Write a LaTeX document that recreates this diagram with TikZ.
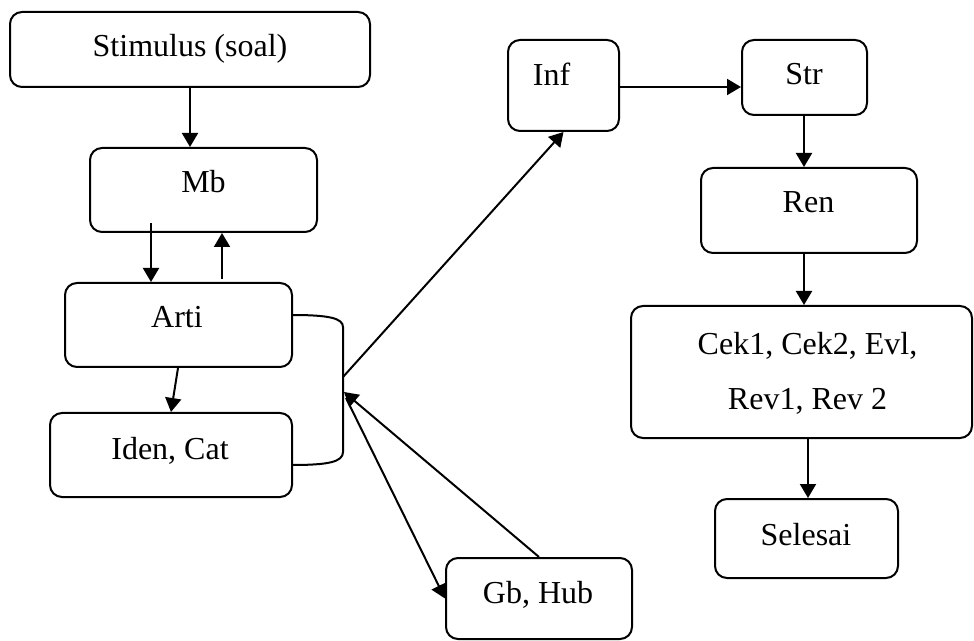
\documentclass[tikz,border=0pt]{standalone}
\usepackage{fontspec}
\setmainfont{Liberation Serif}
\usetikzlibrary{arrows.meta,fit,calc}
\begin{document}
\begin{tikzpicture}[x=0.5pt,y=-0.5pt,
  box/.style={draw, line width=1pt, rounded corners=6pt, inner sep=0pt},
  txt/.style={anchor=base, inner sep=0pt, font=\fontsize{16}{19}\selectfont},
  arr/.style={line width=1pt, -{Triangle[length=7pt,width=8pt]}},
  ln/.style={line width=1pt}]
\useasboundingbox (0,0) rectangle (974,641);
% boxes
\node[box, fit={(10,12) (370,87)}] (stim) {};
\node[box, fit={(90,148) (317,232)}] (mb) {};
\node[box, fit={(65,283) (292,367)}] (arti) {};
\node[box, fit={(50,413) (292,497)}] (iden) {};
\node[box, fit={(508,40) (619,131)}] (inf) {};
\node[box, fit={(742,40) (867,115)}] (str) {};
\node[box, fit={(701,168) (917,253)}] (ren) {};
\node[box, fit={(631,306) (972,438)}] (cek) {};
\node[box, fit={(715,499) (898,578)}] (sel) {};
\node[box, fit={(446,558) (632,639)}] (gb) {};
% texts
\node[txt] (stimT) at (190,57) {Stimulus (soal)};
\node[txt] (mbT) at (203.5,193) {Mb};
\node[txt] (artiT) at (177,328) {Arti};
\node[txt] (idenT) at (170,459) {Iden, Cat};
\node[txt] (infT) at (551.5,86) {Inf};
\node[txt] (strT) at (804,85) {Str};
\node[txt] (renT) at (808.5,213) {Ren};
\node[txt] (cekT1) at (807.5,355) {Cek1, Cek2, Evl,};
\node[txt] (cekT2) at (807.5,409) {Rev1, Rev 2};
\node[txt] (selT) at (806,545) {Selesai};
\node[txt] (gbT) at (538,603) {Gb, Hub};
% bracket
\coordinate (brTop) at (292,315);
\coordinate (brBot) at (292,465);
\coordinate (brA) at (343,377);
\coordinate (brB) at (344,392);
\coordinate (brC) at (346,398);
\draw[ln] (brTop) .. controls (328,315) and (343,318) .. (343,327)
  -- (343,452) .. controls (343,462) and (328,465) .. (brBot);
% connectors
\draw[arr] (stim.south -| 190,0) -- (mb.north -| 190,0);
\draw[arr] ($(mb.south -| 151,0)+(0,-10)$) -- (arti.north -| 151,0);
\draw[arr] ($(arti.north -| 222,0)+(0,-3)$) -- (mb.south -| 222,0);
\draw[arr] (arti.south -| 178,0) -- (iden.north -| 171,0);
\draw[arr] (brA) -- (inf.south);
\draw[arr] (gb.north) -- (brB);
\draw[arr] (brC) -- (gb.west);
\draw[arr] (inf.east |- 0,87) -- (str.west |- 0,87);
\draw[arr] (str.south -| 804,0) -- (ren.north -| 804,0);
\draw[arr] (ren.south -| 804,0) -- (cek.north -| 804,0);
\draw[arr] (cek.south -| 808,0) -- (sel.north -| 808,0);
\end{tikzpicture}
\end{document}
